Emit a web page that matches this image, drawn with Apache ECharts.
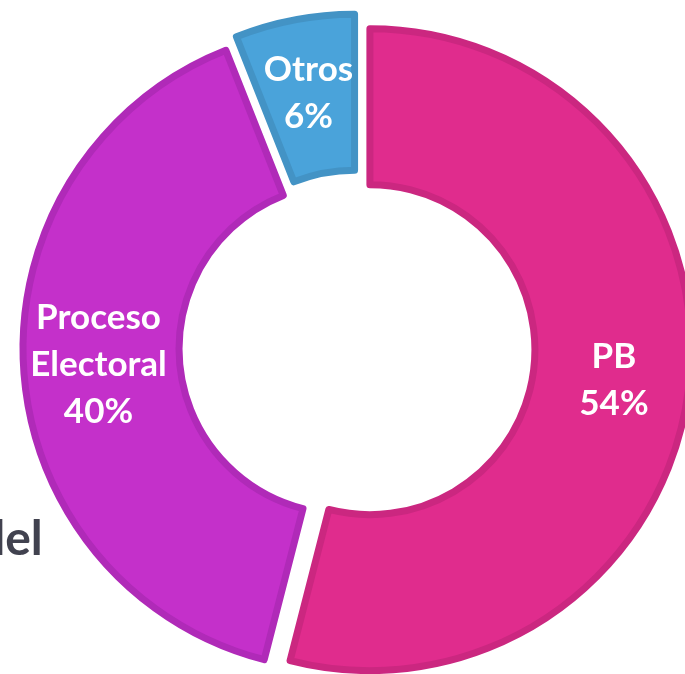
<!DOCTYPE html>
<html>
<head>
<meta charset="utf-8">
<script src="https://cdn.jsdelivr.net/npm/echarts@6/dist/echarts.min.js"></script>
<style>
  html, body { margin: 0; padding: 0; background: #fff; }
  #chart { width: 685px; height: 674px; }
</style>
</head>
<body>
<div id="chart"></div>
<script>
// slice names and shares (%), clockwise from 12 o'clock
const categories = ['PB', 'Proceso Electoral', 'Otros'];
const shares = [54, 40, 6];
const fills = ['#E02C8D', '#C430CA', '#4AA3DA'];
const borders = ['#CB2780', '#B02AB8', '#4393C5'];

const chart = echarts.init(document.getElementById('chart'));

const data = categories.map((name, i) => ({
    name: name,
    value: shares[i],
    selected: true,
    itemStyle: { color: fills[i], borderColor: borders[i] },
    select: { itemStyle: { color: fills[i], borderColor: borders[i], borderWidth: 7 } }
}));

chart.setOption({
    animation: false,
    graphic: [{
        // cut-off word from the slide behind the chart
        type: 'text',
        z: 0,
        left: -22,
        top: 516,
        style: {
            text: 'del',
            fill: '#41424F',
            font: 'bold 48px Lato'
        }
    }],
    series: [{
        type: 'pie',
        z: 2,
        center: [357, 348],
        radius: [165, 321],
        startAngle: 90,
        clockwise: true,
        selectedMode: 'multiple',
        selectedOffset: 13,
        itemStyle: { borderWidth: 7 },
        emphasis: { disabled: true },
        label: {
            show: true,
            position: 'inside',
            color: '#fff',
            fontFamily: 'Lato',
            fontWeight: 'bold',
            fontSize: 35,
            lineHeight: 47,
            formatter: p => p.name.replace(' ', '\n') + '\n' + p.value + '%'
        },
        labelLine: { show: false },
        data: data
    }]
});
</script>
</body>
</html>
